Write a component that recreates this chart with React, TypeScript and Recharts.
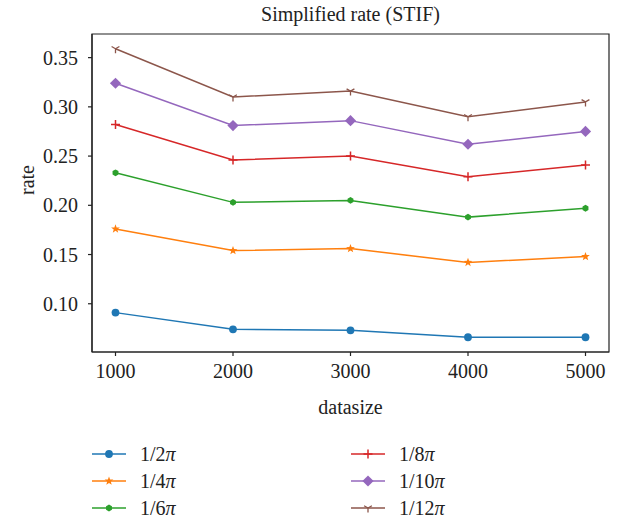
import React from "react";
import {
  Label,
  Legend,
  Line,
  LineChart,
  ReferenceArea,
  XAxis,
  YAxis,
} from "recharts";

// datasize on the x axis
const datasizes = [1000, 2000, 3000, 4000, 5000];

// simplified rate per threshold
const rateHalfPi = [0.091, 0.074, 0.073, 0.066, 0.066];
const rateQuarterPi = [0.176, 0.154, 0.156, 0.142, 0.148];
const rateSixthPi = [0.233, 0.203, 0.205, 0.188, 0.197];
const rateEighthPi = [0.282, 0.246, 0.25, 0.229, 0.241];
const rateTenthPi = [0.324, 0.281, 0.286, 0.262, 0.275];
const rateTwelfthPi = [0.359, 0.31, 0.316, 0.29, 0.305];

const xTicks = [1000, 2000, 3000, 4000, 5000];
const yTicks = [0.1, 0.15, 0.2, 0.25, 0.3, 0.35];

const data = datasizes.map((size, i) => ({
  size,
  p2: rateHalfPi[i],
  p4: rateQuarterPi[i],
  p6: rateSixthPi[i],
  p8: rateEighthPi[i],
  p10: rateTenthPi[i],
  p12: rateTwelfthPi[i],
}));

type Shape = "circle" | "star" | "hex" | "plus" | "diamond" | "tri";

const series: { key: string; denom: string; color: string; shape: Shape }[] = [
  { key: "p2", denom: "2", color: "#1f77b4", shape: "circle" },
  { key: "p4", denom: "4", color: "#ff7f0e", shape: "star" },
  { key: "p6", denom: "6", color: "#2ca02c", shape: "hex" },
  { key: "p8", denom: "8", color: "#d62728", shape: "plus" },
  { key: "p10", denom: "10", color: "#9467bd", shape: "diamond" },
  { key: "p12", denom: "12", color: "#8c564b", shape: "tri" },
];

const FONT = "Liberation Serif";
const INK = "#222";

function XTick({ x, y, payload }: any) {
  return (
    <text x={x} y={y + 14} textAnchor="middle" fontFamily={FONT} fontSize={20} fill={INK}>
      {payload.value}
    </text>
  );
}

function YTick({ x, y, payload }: any) {
  return (
    <text x={x} y={y + 7} textAnchor="end" fontFamily={FONT} fontSize={20} fill={INK}>
      {Number(payload.value).toFixed(2)}
    </text>
  );
}

function Marker({ cx, cy, shape, color }: { cx: number; cy: number; shape: Shape; color: string }) {
  if (cx == null || cy == null) return null;
  switch (shape) {
    case "circle":
      return <circle cx={cx} cy={cy} r={3.9} fill={color} />;
    case "hex": {
      const pts = [0, 1, 2, 3, 4, 5]
        .map((k) => {
          const a = (Math.PI / 3) * k + Math.PI / 6;
          return `${cx + 3.4 * Math.cos(a)},${cy + 3.4 * Math.sin(a)}`;
        })
        .join(" ");
      return <polygon points={pts} fill={color} />;
    }
    case "star": {
      const pts: string[] = [];
      for (let k = 0; k < 10; k++) {
        const r = k % 2 === 0 ? 4.6 : 1.9;
        const a = -Math.PI / 2 + (Math.PI / 5) * k;
        pts.push(`${cx + r * Math.cos(a)},${cy + r * Math.sin(a)}`);
      }
      return <polygon points={pts.join(" ")} fill={color} />;
    }
    case "plus":
      return (
        <path
          d={`M${cx - 4.5},${cy}H${cx + 4.5}M${cx},${cy - 4.5}V${cy + 4.5}`}
          stroke={color}
          strokeWidth={1.5}
        />
      );
    case "diamond":
      return (
        <polygon
          points={`${cx},${cy - 5.6} ${cx + 5.6},${cy} ${cx},${cy + 5.6} ${cx - 5.6},${cy}`}
          fill={color}
        />
      );
    case "tri":
      return (
        <path
          d={`M${cx},${cy}V${cy + 4.5}M${cx},${cy}L${cx - 3.9},${cy - 2.25}M${cx},${cy}L${cx + 3.9},${cy - 2.25}`}
          stroke={color}
          strokeWidth={1.3}
          fill="none"
        />
      );
  }
  return null;
}

function LegendBox() {
  return (
    <div style={{ position: "relative", width: 619, height: 80, fontFamily: FONT }}>
      {series.map((s, i) => {
        const col = Math.floor(i / 3);
        const row = i % 3;
        return (
          <div
            key={s.key}
            style={{
              position: "absolute",
              left: col === 0 ? 92 : 351,
              top: 1 + row * 27,
              height: 26,
              display: "flex",
              alignItems: "center",
            }}
          >
            <svg width={34} height={14} style={{ marginRight: 14 }}>
              <line x1={0} y1={7} x2={34} y2={7} stroke={s.color} strokeWidth={1.5} />
              <Marker cx={17} cy={7} shape={s.shape} color={s.color} />
            </svg>
            <span style={{ fontSize: 20, lineHeight: "20px", color: INK, fontFamily: FONT }}>
              1/{s.denom}
              <i>π</i>
            </span>
          </div>
        );
      })}
    </div>
  );
}

export default function App() {
  return (
    <div
      style={{
        position: "absolute",
        left: 0,
        top: 0,
        width: 619,
        height: 520,
        background: "#fff",
        fontFamily: FONT,
      }}
    >
      <div
        style={{
          position: "absolute",
          left: 92,
          width: 517,
          top: 4,
          textAlign: "center",
          fontSize: 20,
          lineHeight: "20px",
          color: INK,
          fontFamily: FONT,
        }}
      >
        Simplified rate (STIF)
      </div>
      <LineChart
        width={619}
        height={520}
        data={data}
        margin={{ top: 34, right: 10, left: 20, bottom: 98 }}
      >
        <XAxis
          dataKey="size"
          type="number"
          domain={[800, 5200]}
          ticks={xTicks}
          allowDataOverflow
          height={70}
          stroke={INK}
          strokeWidth={1.2}
          tickSize={4}
          tickMargin={8}
          tick={<XTick />}
        >
          <Label
            content={({ viewBox }: any) => (
              <text
                x={viewBox.x + viewBox.width / 2}
                y={viewBox.y + viewBox.height - 8}
                textAnchor="middle"
                fontFamily={FONT}
                fontSize={20}
                fill={INK}
              >
                datasize
              </text>
            )}
          />
        </XAxis>
        <YAxis
          type="number"
          domain={[0.051, 0.374]}
          ticks={yTicks}
          allowDataOverflow
          width={72}
          stroke={INK}
          strokeWidth={1.2}
          tickSize={4}
          tickMargin={10}
          tick={<YTick />}
        >
          <Label
            content={({ viewBox }: any) => {
              const cx = viewBox.x + 7;
              const cy = viewBox.y + viewBox.height / 2 - 13;
              return (
                <text
                  x={cx}
                  y={cy}
                  transform={`rotate(-90, ${cx}, ${cy})`}
                  textAnchor="middle"
                  fontFamily={FONT}
                  fontSize={20}
                  fill={INK}
                  dy="0.35em"
                >
                  rate
                </text>
              );
            }}
          />
        </YAxis>
        <ReferenceArea
          x1={800}
          x2={5200}
          y1={0.051}
          y2={0.374}
          fill="none"
          stroke={INK}
          strokeWidth={1.2}
        />
        {series.map((s) => (
          <Line
            key={s.key}
            dataKey={s.key}
            stroke={s.color}
            strokeWidth={1.5}
            isAnimationActive={false}
            activeDot={false}
            dot={(p: any) => (
              <Marker
                key={`${s.key}-${p.index}`}
                cx={p.cx}
                cy={p.cy}
                shape={s.shape}
                color={s.color}
              />
            )}
          />
        ))}
        <Legend
          layout="horizontal"
          verticalAlign="middle"
          align="center"
          wrapperStyle={{ left: 0, top: 440, width: 619, height: 80 }}
          content={() => <LegendBox />}
        />
      </LineChart>
    </div>
  );
}
